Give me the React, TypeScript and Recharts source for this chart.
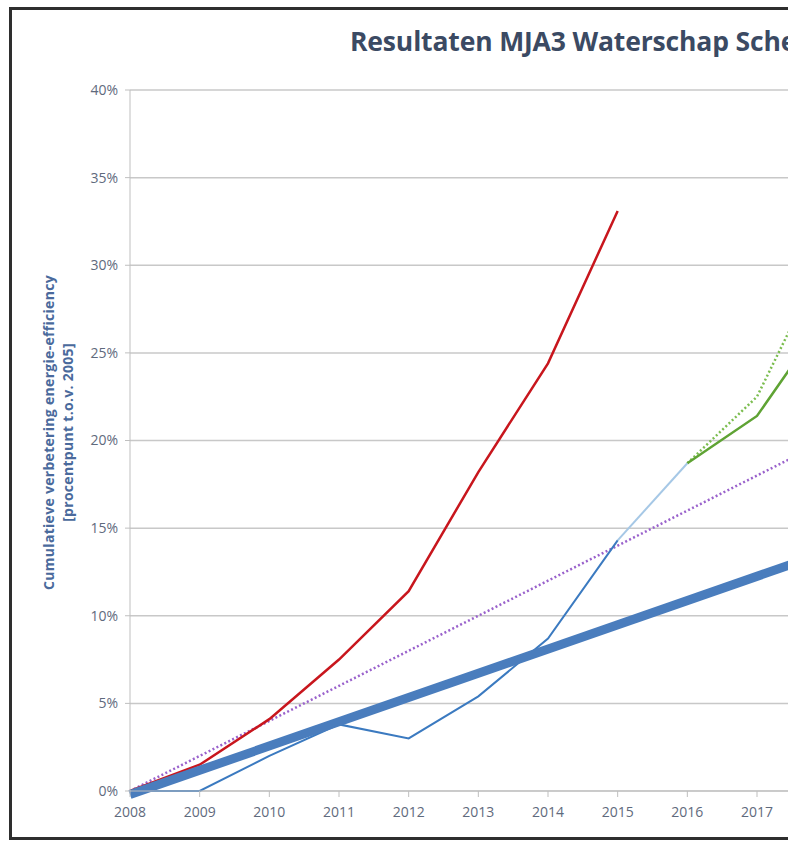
import React from 'react';
import { LineChart, Line, XAxis, YAxis, CartesianGrid, ReferenceLine } from 'recharts';

// jaren op de x-as
const years = [2008, 2009, 2010, 2011, 2012, 2013, 2014, 2015, 2016, 2017, 2018, 2019, 2020];
const yTicks = [0, 5, 10, 15, 20, 25, 30, 35, 40];

// cumulatieve verbetering in procentpunt
const rood = [0, 1.5, 4.1, 7.5, 11.4, 18.2, 24.4, 33.1, null, null, null, null, null];
const waterschap = [0, 0, 2.0, 3.8, 3.0, 5.4, 8.7, 14.3, null, null, null, null, null];
const lichtblauw = [null, null, null, null, null, null, null, 14.3, 18.7, null, null, null, null];
const groen = [null, null, null, null, null, null, null, null, 18.7, 21.4, 27.1, null, null];
const groenStip = [null, null, null, null, null, null, null, null, 18.7, 22.5, 30.6, null, null];
const mja3Stip = [0, 2, 4, 6, 8, 10, 12, 14, 16, 18, 20, 22, 24];

// doellijn (rechte lijn)
const doelJaren = [2008, 2020];
const doelWaarden = [-0.2, 16.4];

const data = years.map((y, i) => ({
  jaar: y,
  rood: rood[i],
  waterschap: waterschap[i],
  lichtblauw: lichtblauw[i],
  groen: groen[i],
  groenStip: groenStip[i],
  mja3Stip: mja3Stip[i],
}));

const AxisTitle = ({ viewBox }: any) => {
  const cy = viewBox.y + viewBox.height / 2 - 8;
  return (
    <g fill="#4a6a9c" fontWeight="bold" fontSize={14} fontFamily="Open Sans" letterSpacing={0.3}>
      <text transform={`translate(48, ${cy}) rotate(-90)`} textAnchor="middle" dominantBaseline="central">
        Cumulatieve verbetering  energie-efficiency
      </text>
      <text transform={`translate(67, ${cy}) rotate(-90)`} textAnchor="middle" dominantBaseline="central">
        [procentpunt t.o.v. 2005]
      </text>
    </g>
  );
};

export default function App() {
  return (
    <div
      style={{
        position: 'absolute',
        left: 0,
        top: 0,
        width: 788,
        height: 843,
        overflow: 'hidden',
        background: '#fff',
        fontFamily: '"Open Sans", sans-serif',
      }}
    >
      <div
        style={{
          position: 'absolute',
          left: 9,
          top: 7,
          width: 2000,
          height: 833,
          boxSizing: 'border-box',
          border: '3px solid #2e2e2e',
        }}
      />
      <div
        style={{
          position: 'absolute',
          left: 350,
          top: 23,
          fontSize: 26.5,
          fontWeight: 'bold',
          color: '#3b4a63',
          whiteSpace: 'nowrap',
          letterSpacing: -0.15,
        }}
      >
        Resultaten MJA3 Waterschap Scheldestromen
      </div>
      <div style={{ position: 'absolute', left: 0, top: 0 }}>
        <LineChart
          width={990}
          height={843}
          data={data}
          margin={{ top: 90, right: 24, bottom: 12, left: 70 }}
        >
          <CartesianGrid vertical={false} stroke="#c8c8c8" strokeWidth={1.5} />
          <XAxis
            dataKey="jaar"
            type="number"
            domain={[2008, 2020]}
            ticks={years}
            height={40}
            tickSize={6}
            tickMargin={10}
            stroke="#bfbfbf"
            tick={{ fill: '#5f6a7d', fontSize: 14 }}
          />
          <YAxis
            domain={[0, 40]}
            ticks={yTicks}
            width={60}
            tickSize={5}
            tickMargin={7}
            stroke="#bfbfbf"
            tick={{ fill: '#5f6a7d', fontSize: 14 }}
            tickFormatter={(v) => `${v}%`}
            label={<AxisTitle />}
          />
          <Line dataKey="mja3Stip" stroke="#9a62cc" strokeWidth={2.5} strokeDasharray="2 2.4" dot={false} isAnimationActive={false} />
          <Line dataKey="groenStip" stroke="#7bbd4f" strokeWidth={2.5} strokeDasharray="2 2.4" dot={false} isAnimationActive={false} />
          <Line dataKey="groen" stroke="#5fa334" strokeWidth={2.5} dot={false} isAnimationActive={false} />
          <Line dataKey="lichtblauw" stroke="#a6c8e6" strokeWidth={2} dot={false} isAnimationActive={false} />
          <Line dataKey="waterschap" stroke="#3b7ac0" strokeWidth={2} dot={false} isAnimationActive={false} />
          <Line dataKey="rood" stroke="#c8161d" strokeWidth={2.5} dot={false} isAnimationActive={false} />
          <ReferenceLine
            segment={[
              { x: doelJaren[0], y: doelWaarden[0] },
              { x: doelJaren[1], y: doelWaarden[1] },
            ]}
            stroke="#4a7dbd"
            strokeWidth={9}
            ifOverflow="visible"
          />
        </LineChart>
      </div>
    </div>
  );
}
